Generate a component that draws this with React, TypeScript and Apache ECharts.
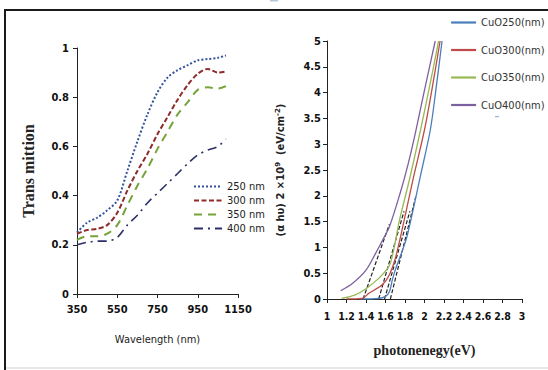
import React, { useEffect, useRef } from "react";
import * as echarts from "echarts";

// Left chart: transmittance vs wavelength
const wavelengths = [350, 400, 450, 500, 550, 600, 650, 700, 750, 800, 850, 900, 950, 1000, 1050, 1090];
const t250 = [0.25, 0.29, 0.31, 0.34, 0.38, 0.5, 0.62, 0.73, 0.82, 0.88, 0.91, 0.93, 0.95, 0.955, 0.96, 0.97];
const t300 = [0.245, 0.26, 0.265, 0.28, 0.33, 0.42, 0.5, 0.57, 0.65, 0.72, 0.79, 0.85, 0.895, 0.915, 0.9, 0.905];
const t350 = [0.22, 0.235, 0.235, 0.245, 0.28, 0.36, 0.44, 0.51, 0.59, 0.66, 0.73, 0.78, 0.83, 0.84, 0.835, 0.845];
const t400 = [0.2, 0.21, 0.215, 0.215, 0.23, 0.28, 0.32, 0.37, 0.41, 0.45, 0.49, 0.53, 0.565, 0.585, 0.6, 0.63];
const leftNames = ["250 nm", "300 nm", "350 nm", "400 nm"];
const leftTicksX = [350, 550, 750, 950, 1150];

// Right chart: Tauc plot
const e250 = [1.33, 1.53, 1.6, 1.64, 1.67, 1.7, 1.81, 1.86, 1.96, 2.06, 2.12, 2.18];
const a250 = [0, 0.01, 0.05, 0.14, 0.37, 0.56, 1.14, 1.53, 2.4, 3.28, 4.1, 5.0];
const e300 = [1.2, 1.36, 1.43, 1.57, 1.64, 1.7, 1.77, 1.88, 2.0, 2.08, 2.16];
const a300 = [0, 0.01, 0.11, 0.28, 0.47, 0.78, 1.34, 2.3, 3.28, 4.1, 5.0];
const e350 = [1.15, 1.29, 1.4, 1.53, 1.64, 1.7, 1.74, 1.85, 1.96, 2.05, 2.145];
const a350 = [0.01, 0.08, 0.2, 0.4, 0.65, 1.1, 1.5, 2.35, 3.28, 4.1, 5.0];
const e400 = [1.14, 1.26, 1.4, 1.5, 1.57, 1.64, 1.75, 1.83, 1.91, 2.0, 2.11];
const a400 = [0.16, 0.3, 0.56, 0.89, 1.14, 1.4, 2.05, 2.6, 3.25, 4.05, 5.0];
const rightNames = ["CuO250(nm)", "CuO300(nm)", "CuO350(nm)", "CuO400(nm)"];
// Extrapolation (tangent) lines: [x0, y0, x1, y1]
const tangents = [
  [1.37, 0, 1.64, 1.45],
  [1.53, 0, 1.79, 1.7],
  [1.59, 0, 1.85, 1.7],
  [1.65, 0, 1.91, 1.98],
];

const zip = (xs: number[], ys: number[]) => xs.map((x, i) => [x, ys[i]]);

const tickFont = '"Liberation Sans Narrow", "DejaVu Sans Condensed", "Roboto Condensed", "Liberation Sans", sans-serif';

export default function App() {
  const ref = useRef<HTMLDivElement>(null);
  useEffect(() => {
    if (!ref.current) return;
    const chart = echarts.init(ref.current, undefined, { renderer: "svg" });
    const leftColors = ["#34519e", "#8e2b2b", "#76a33a", "#2b2f66"];
    const leftStyles: any[] = ["dotted", [5, 2.5], [8, 6], [9, 5, 2, 5]];
    const leftData = [t250, t300, t350, t400];
    const rightColors = ["#4a7ebb", "#be4b48", "#98b954", "#7d60a0"];
    const rightData = [zip(e250, a250), zip(e300, a300), zip(e350, a350), zip(e400, a400)];

    const axisLine = { show: true, lineStyle: { color: "#222", width: 1 } };
    const axisTick = { show: true, length: 4, lineStyle: { color: "#222" } };
    const labelStyle = { color: "#111", fontFamily: tickFont, fontWeight: "bold" as const, fontSize: 11 };

    const series: any[] = [];
    leftData.forEach((d, i) => {
      series.push({
        name: leftNames[i],
        type: "line",
        xAxisIndex: 0,
        yAxisIndex: 0,
        data: zip(wavelengths, d),
        symbol: "none",
        smooth: 0.3,
        lineStyle: { color: leftColors[i], width: i === 3 ? 1.6 : 2, type: leftStyles[i] },
        itemStyle: { color: leftColors[i] },
      });
    });
    tangents.forEach((t) => {
      series.push({
        type: "line",
        xAxisIndex: 1,
        yAxisIndex: 1,
        data: [
          [t[0], t[1]],
          [t[2], t[3]],
        ],
        symbol: "none",
        lineStyle: { color: "#222", width: 1.2, type: [4, 2] },
        z: 1,
      });
    });
    rightData.forEach((d, i) => {
      series.push({
        name: rightNames[i],
        type: "line",
        xAxisIndex: 1,
        yAxisIndex: 1,
        data: d,
        symbol: "none",
        smooth: 0.3,
        lineStyle: { color: rightColors[i], width: 1.3 },
        itemStyle: { color: rightColors[i] },
        z: 3,
      });
    });

    chart.setOption({
      animation: false,
      backgroundColor: "#fff",
      grid: [
        { left: 77, top: 48, width: 161, height: 246 },
        { left: 327, top: 41, width: 195, height: 258 },
      ],
      xAxis: [
        {
          type: "value",
          gridIndex: 0,
          min: 350,
          max: 1150,
          interval: 200,
          axisLine,
          axisTick,
          splitLine: { show: false },
          axisLabel: { ...labelStyle, margin: 10, formatter: (v: number) => (leftTicksX.includes(v) ? String(v) : "") },
          name: "Wavelength (nm)",
          nameLocation: "middle",
          nameGap: 40,
          nameTextStyle: { color: "#222", fontFamily: tickFont, fontSize: 11 },
        },
        {
          type: "value",
          gridIndex: 1,
          min: 1,
          max: 3,
          interval: 0.2,
          axisLine,
          axisTick,
          splitLine: { show: false },
          axisLabel: { ...labelStyle, fontSize: 10.5, margin: 11, formatter: (v: number) => String(+v.toFixed(1)) },
          name: "photonenegy(eV)",
          nameLocation: "middle",
          nameGap: 44,
          nameTextStyle: { color: "#222", fontFamily: '"Liberation Serif", serif', fontWeight: "bold", fontSize: 14 },
        },
      ],
      yAxis: [
        {
          type: "value",
          gridIndex: 0,
          min: 0,
          max: 1,
          interval: 0.2,
          axisLine,
          axisTick,
          splitLine: { show: false },
          axisLabel: { ...labelStyle, margin: 8, formatter: (v: number) => String(+v.toFixed(1)) },
          name: "Trans mittion",
          nameLocation: "middle",
          nameGap: 41,
          nameRotate: 90,
          nameTextStyle: { color: "#222", fontFamily: '"Liberation Serif", serif', fontWeight: "bold", fontSize: 16 },
        },
        {
          type: "value",
          gridIndex: 1,
          min: 0,
          max: 5,
          interval: 0.5,
          axisLine,
          axisTick,
          splitLine: { show: false },
          axisLabel: { ...labelStyle, margin: 6, formatter: (v: number) => String(+v.toFixed(1)) },
          name: "{n|(α hυ) 2 ×10}{s|9}{n|  (eV/cm}{s|-2}{n|)}",
          nameLocation: "middle",
          nameGap: 40,
          nameRotate: 90,
          nameTextStyle: {
            rich: {
              n: { color: "#222", fontFamily: '"DejaVu Sans", sans-serif', fontWeight: "bold", fontSize: 10 },
              s: { color: "#222", fontFamily: '"DejaVu Sans", sans-serif', fontWeight: "bold", fontSize: 7, verticalAlign: "top", padding: [0, 0, 6, 0] },
            },
          },
        },
      ],
      legend: [
        {
          data: leftNames,
          orient: "vertical",
          left: 193,
          top: 181,
          padding: 0,
          itemWidth: 28,
          itemHeight: 12,
          itemGap: 3,
          itemStyle: { opacity: 0 },
          textStyle: { color: "#222", fontFamily: tickFont, fontSize: 11 },
        },
        {
          data: rightNames,
          orient: "vertical",
          left: 450,
          top: 17,
          padding: 0,
          itemWidth: 25,
          itemHeight: 12,
          itemGap: 16.5,
          itemStyle: { opacity: 0 },
          lineStyle: { width: 2.2 },
          textStyle: { color: "#333", fontFamily: tickFont, fontSize: 11 },
        },
      ],
      graphic: [
        { type: "rect", shape: { x: 4, y: 9, width: 544, height: 2 }, style: { fill: "#1a1a1a" } },
        { type: "rect", shape: { x: 4, y: 9, width: 2, height: 361 }, style: { fill: "#1a1a1a" } },
        { type: "rect", shape: { x: 6, y: 367.5, width: 542, height: 1 }, style: { fill: "#cfcfcf" } },
        { type: "rect", shape: { x: 270, y: 0, width: 8, height: 1.5 }, style: { fill: "#b7c6de" } },
        { type: "rect", shape: { x: 495, y: 116, width: 4, height: 1.2 }, style: { fill: "#9cb6d8" } },
      ],
      series,
    });
    return () => chart.dispose();
  }, []);
  return (
    <div
      ref={ref}
      style={{ position: "fixed", left: 0, top: 0, width: 548, height: 370, background: "#fff" }}
    />
  );
}
